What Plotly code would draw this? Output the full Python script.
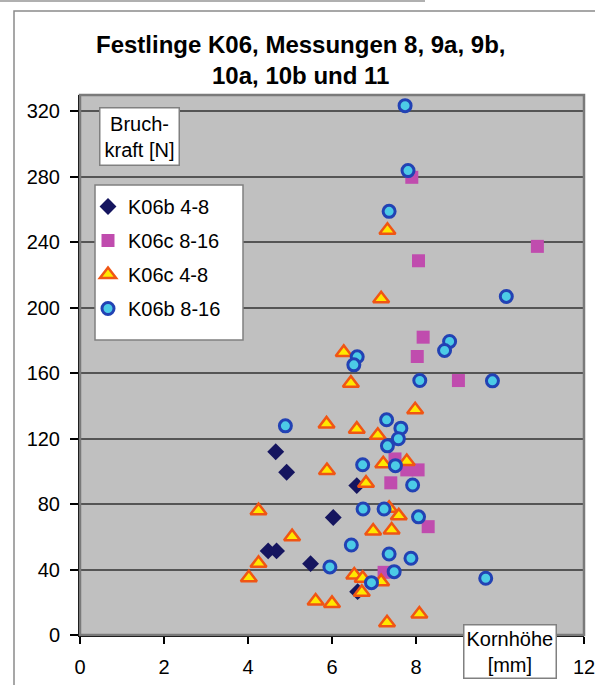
import plotly.graph_objects as go

# ---- data ----
k06b_48_x = [4.66, 4.92, 4.48, 4.68, 5.49, 6.03, 6.59, 6.61]
k06b_48_y = [112.0, 99.5, 51.4, 51.4, 43.6, 71.8, 91.3, 26.5]

k06c_816_x = [7.90, 10.89, 8.06, 8.17, 8.03, 9.01, 7.50, 7.78, 8.05, 7.40, 8.29, 7.24]
k06c_816_y = [279.7, 237.5, 228.7, 182.0, 170.2, 155.5, 107.6, 100.9, 100.9, 93.0, 66.2, 38.3]

k06c_48_x = [7.32, 7.17, 6.28, 6.45, 7.98, 5.87, 6.59, 7.09, 5.88, 7.22, 7.78, 6.81, 7.36, 7.59,
             6.98, 7.42, 4.25, 5.05, 4.25, 4.02, 6.53, 6.73, 7.17, 6.71, 5.61, 6.00, 8.08, 7.31]
k06c_48_y = [247.3, 205.5, 172.7, 153.9, 137.6, 129.0, 125.8, 122.0, 100.5, 104.6, 106.0, 92.8, 77.5, 72.8,
             63.6, 64.2, 76.0, 60.1, 43.8, 35.0, 36.7, 34.7, 32.6, 26.1, 20.8, 19.3, 12.8, 7.5]

k06b_816_x = [7.74, 7.81, 7.36, 10.15, 8.80, 8.68, 6.60, 6.52, 8.09, 9.82, 4.89, 7.30, 7.64, 7.58,
              7.32, 6.73, 7.51, 7.92, 6.74, 7.24, 8.06, 6.46, 7.36, 7.88, 5.95, 7.48, 6.94, 9.66]
k06b_816_y = [323.5, 283.8, 258.9, 206.9, 179.4, 173.9, 170.0, 165.1, 155.5, 155.3, 127.8, 131.5, 126.4, 119.9,
              115.6, 104.0, 103.5, 91.7, 77.0, 77.0, 72.2, 55.0, 49.5, 46.9, 41.6, 38.7, 32.0, 34.7]

x_ticks = [0, 2, 4, 6, 8, 10, 12]
x_tick_text = ["0", "2", "4", "6", "8", "", "12"]  # "10" is hidden behind the axis label box
y_ticks = [0, 40, 80, 120, 160, 200, 240, 280, 320]

title_text = "Festlinge K06, Messungen 8, 9a, 9b,<br>10a, 10b und 11"
y_label = "Bruch-<br>kraft [N]"
x_label = "Kornhöhe<br>[mm]"

FONT = "Liberation Sans, Arial, sans-serif"

fig = go.Figure()
fig.add_trace(go.Scatter(x=k06b_48_x, y=k06b_48_y, mode="markers", name="K06b 4-8",
                         legendgroup="a",
                         marker=dict(symbol="diamond", size=13, color="#15155f",
                                     line=dict(width=0))))
fig.add_trace(go.Scatter(x=k06c_816_x, y=k06c_816_y, mode="markers", name="K06c 8-16",
                         legendgroup="b",
                         marker=dict(symbol="square", size=13, color="#c04cae",
                                     line=dict(width=0))))
fig.add_trace(go.Scatter(x=k06c_48_x, y=k06c_48_y, mode="markers", name="K06c 4-8",
                         legendgroup="c",
                         marker=dict(symbol="triangle-up", size=14, color="#ffe800",
                                     line=dict(width=2.5, color="#f05514"))))
fig.add_trace(go.Scatter(x=k06b_816_x, y=k06b_816_y, mode="markers", name="K06b 8-16",
                         legendgroup="d",
                         marker=dict(symbol="circle", size=12, color="#4ccbe6",
                                     line=dict(width=3, color="#2242b4"))))

L, R, T, B = 80, 11, 95, 50
W, H = 595, 685
pw, ph = W - L - R, H - T - B

def px(xp):
    return (xp - L) / pw

def py(yp):
    return (H - B - yp) / ph

shapes = [
    dict(type="rect", xref="paper", yref="paper", x0=px(14), x1=px(605), y0=py(695), y1=py(11),
         line=dict(color="#8a8a8a", width=1.5), fillcolor="rgba(0,0,0,0)", layer="below"),
    dict(type="line", xref="paper", yref="paper", x0=px(0), x1=px(425), y0=py(1), y1=py(1),
         line=dict(color="#b0b0b0", width=2)),
    dict(type="rect", xref="paper", yref="paper", x0=0, x1=1, y0=0, y1=1,
         line=dict(color="#7a7a7a", width=2.5), fillcolor="rgba(0,0,0,0)", layer="above"),
    dict(type="rect", xref="paper", yref="paper", x0=px(95), x1=px(243), y0=py(340), y1=py(185),
         line=dict(color="#808080", width=1.5), fillcolor="white", layer="above"),
]

annotations = [
    dict(text="<b>" + title_text + "</b>", xref="paper", yref="paper", x=px(300), y=py(60),
         xanchor="center", yanchor="middle", showarrow=False,
         font=dict(family=FONT, size=24, color="black"), align="center"),
    dict(text=y_label, xref="paper", yref="paper", x=px(139.5), y=py(136),
         xanchor="center", yanchor="middle", showarrow=False, align="center",
         font=dict(family=FONT, size=20, color="black"),
         bgcolor="white", bordercolor="#808080", borderwidth=1.5, borderpad=4),
    dict(text=x_label, xref="paper", yref="paper", x=px(510), y=py(651),
         xanchor="center", yanchor="middle", showarrow=False, align="center",
         font=dict(family=FONT, size=20, color="black"),
         bgcolor="white", bordercolor="#808080", borderwidth=1.5, borderpad=2),
]

fig.update_layout(
    width=W, height=H,
    margin=dict(l=L, r=R, t=T, b=B, autoexpand=False),
    paper_bgcolor="white",
    plot_bgcolor="#c0c0c0",
    font=dict(family=FONT, size=20, color="black"),
    showlegend=True,
    legend=dict(x=px(88), y=py(187), xanchor="left", yanchor="top",
                bgcolor="rgba(0,0,0,0)", borderwidth=0,
                font=dict(family=FONT, size=20, color="black"),
                traceorder="grouped", tracegroupgap=5, itemwidth=30),
    shapes=shapes,
    annotations=annotations,
    xaxis=dict(range=[0, 12], tickvals=x_ticks, ticktext=x_tick_text, automargin=False,
               showgrid=False, zeroline=False, showline=True, linecolor="black", linewidth=2,
               ticks="outside", ticklen=7, tickwidth=1.5, tickcolor="black",
               ticklabeloverflow="allow",
               tickfont=dict(family=FONT, size=20, color="black"), ticklabelstandoff=6),
    yaxis=dict(range=[0, 330], tickvals=y_ticks, ticktext=[str(v) for v in y_ticks], automargin=False,
               showgrid=True, gridcolor="#555555", gridwidth=1.5, zeroline=False,
               showline=True, linecolor="black", linewidth=2,
               ticks="outside", ticklen=8, tickwidth=1.5, tickcolor="black",
               tickfont=dict(family=FONT, size=20, color="black"), ticklabelstandoff=6),
)

fig.write_html("out.html", config={"displayModeBar": False},
               post_script="document.body.style.margin='0px';")
